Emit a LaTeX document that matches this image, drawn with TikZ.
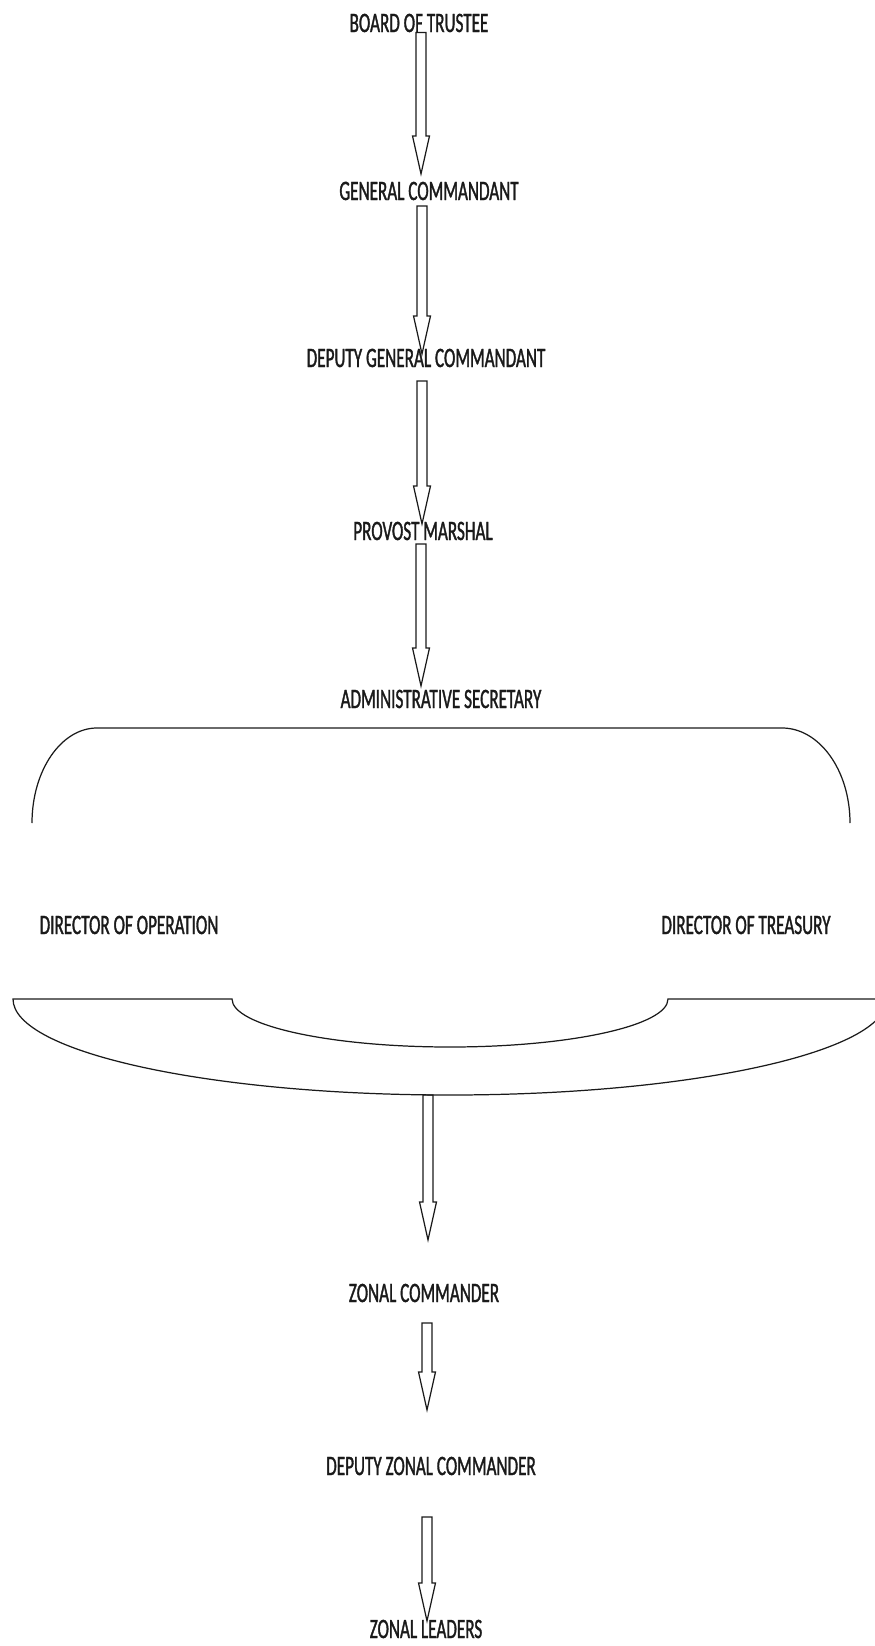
\documentclass[tikz,border=0pt]{standalone}
\usepackage{fontspec}
\newfontfamily\orgfont[FakeStretch=0.61, FakeBold=1.2]{Carlito}
\usetikzlibrary{calc}
\definecolor{orgink}{HTML}{1A1A1A}
\tikzset{
  rank/.style={font=\orgfont\fontsize{16pt}{18pt}\selectfont, text=orgink, inner sep=0pt},
  blockarrow/.style={draw=orgink, line width=0.7pt, to path={let \p1=(\tikztostart), \p2=(\tikztotarget) in
      (\x1-0.1cm,\y1) -- (\x1-0.1cm,\y2+0.76cm) -- (\x1-0.17cm,\y2+0.76cm) -- (\x1,\y2)
      -- (\x1+0.17cm,\y2+0.76cm) -- (\x1+0.1cm,\y2+0.76cm) -- (\x1+0.1cm,\y1) -- cycle}}
}

\begin{document}
\begin{tikzpicture}
  \useasboundingbox (0,0) rectangle (17.5,-32.92);
  % chain of command
  \node[rank] (bot) at (8.38,-0.46) {BOARD OF TRUSTEE};
  \node[rank] (gen) at (8.58,-3.82) {GENERAL COMMANDANT};
  \node[rank] (dgc) at (8.52,-7.16) {DEPUTY GENERAL COMMANDANT};
  \node[rank] (prov) at (8.46,-10.62) {PROVOST MARSHAL};
  \node[rank] (adm) at (8.82,-13.98) {ADMINISTRATIVE SECRETARY};
  \node[rank] (dop) at (2.58,-18.5) {DIRECTOR OF OPERATION};
  \node[rank] (dtr) at (14.92,-18.5) {DIRECTOR OF TREASURY};
  \node[rank] (zc) at (8.48,-25.86) {ZONAL COMMANDER};
  \node[rank] (dzc) at (8.62,-29.32) {DEPUTY ZONAL COMMANDER};
  \node[rank] (zl) at (8.52,-32.58) {ZONAL LEADERS};

  \draw[blockarrow] ([xshift=0.04cm]bot.south) to ([yshift=0.15cm]gen.north);
  \draw[blockarrow] ([shift={(-0.14cm,-0.11cm)}]gen.south) to ([yshift=-0.11cm]dgc.north);
  \draw[blockarrow] ([shift={(-0.08cm,-0.27cm)}]dgc.south) to ([yshift=-0.05cm]prov.north);
  \draw[blockarrow] ([shift={(-0.04cm,-0.07cm)}]prov.south) to ([yshift=0.07cm]adm.north);

  % bracket over the two directors
  \draw[orgink, line width=0.7pt] (0.64,-16.46) arc[start angle=180, end angle=90, x radius=1.3, y radius=1.9]
    -- (15.64,-14.56) arc[start angle=90, end angle=0, x radius=1.36, y radius=1.9];
  % bowl under the two directors
  \draw[orgink, line width=0.7pt] (17.74,-19.98) -- (13.36,-19.98)
    arc[start angle=0, end angle=-180, x radius=4.36, y radius=0.96] -- (0.26,-19.98)
    arc[start angle=180, end angle=360, x radius=8.74, y radius=1.92];
  \coordinate (hub) at (8.56,-21.9);

  \draw[blockarrow] (hub) to ([yshift=0.87cm]zc.north);
  \draw[blockarrow] ([shift={(0.06cm,-0.41cm)}]zc.south) to ([yshift=0.93cm]dzc.north);
  \draw[blockarrow] ([shift={(-0.08cm,-0.83cm)}]dzc.south) to ([yshift=-0.03cm]zl.north);
\end{tikzpicture}
\end{document}
